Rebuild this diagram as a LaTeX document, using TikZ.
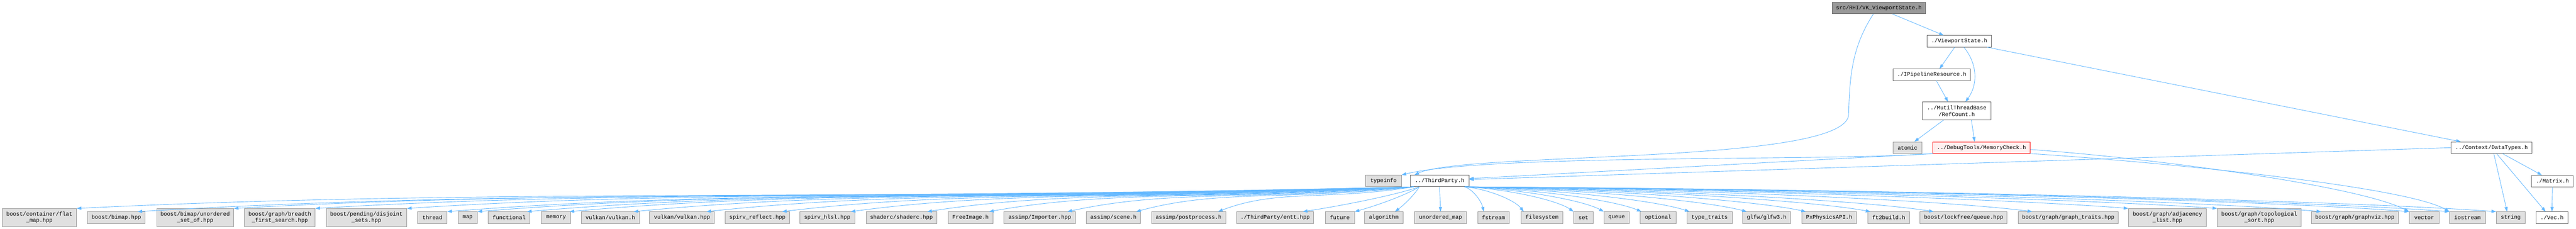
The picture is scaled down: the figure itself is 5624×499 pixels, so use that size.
\documentclass[tikz,border=0pt]{standalone}
\usepackage{fontspec}
\setmainfont{Liberation Mono}
\usetikzlibrary{arrows.meta,calc}
\definecolor{edgec}{HTML}{63B8FF}
\definecolor{sysfill}{HTML}{E0E0E0}
\definecolor{sysdraw}{HTML}{999999}
\definecolor{locdraw}{HTML}{666666}
\definecolor{rootfill}{HTML}{999999}
\definecolor{redfill}{HTML}{FFF0F0}
\definecolor{reddraw}{HTML}{FF0000}
\tikzset{
  nd/.style={draw, line width=1pt, rectangle, inner xsep=0pt, inner ysep=0pt,
    minimum height=25pt, align=center, text=black,
    font=\fontsize{12}{14}\selectfont},
  sys/.style={nd, fill=sysfill, draw=sysdraw},
  loc/.style={nd, fill=white, draw=locdraw},
  rootn/.style={nd, fill=rootfill, draw=locdraw},
  redn/.style={nd, fill=redfill, draw=reddraw},
  two/.style={minimum height=39pt},
  edge/.style={draw=edgec, line width=1pt, -{Triangle[length=10pt,width=7pt]}, fill=none},
}
\begin{document}
\begin{tikzpicture}[x=1pt,y=-1pt]
\fill[white] (0,0) rectangle (5624,499);
\useasboundingbox (0,0) rectangle (5624,499);

% upper nodes
\node[rootn, minimum width=204pt] (root) at (4102,17.5) {src/RHI/VK\_ViewportState.h};
\node[loc, minimum width=141pt] (vps) at (4277.5,90) {./ViewportState.h};
\node[loc, minimum width=169pt] (ipr) at (4217.5,163) {./IPipelineResource.h};
\node[loc, two, minimum width=150pt] (refc) at (4272,242) {../MutilThreadBase\\/RefCount.h};
\node[sys, minimum width=62pt] (atomic) at (4164.5,322) {atomic};
\node[redn, minimum width=212pt] (memchk) at (4326,322) {../DebugTools/MemoryCheck.h};
\node[loc, minimum width=177pt] (dt) at (5439.5,322) {../Context/DataTypes.h};
\node[sys, minimum width=78pt] (typeinfo) at (3020.5,394.5) {typeinfo};
\node[loc, minimum width=128pt] (tp) at (3143,394.5) {../ThirdParty.h};
\node[loc, minimum width=91pt] (matrix) at (5572.5,395) {./Matrix.h};

% bottom row
\node[sys, two, minimum width=162pt] (flat) at (86,474.5) {boost/container/flat\\\_map.hpp};
\node[sys, minimum width=126pt] (bimap) at (254,474.5) {boost/bimap.hpp};
\node[sys, two, minimum width=168pt] (unord) at (426,474.5) {boost/bimap/unordered\\\_set\_of.hpp};
\node[sys, two, minimum width=154pt] (breadth) at (611,474.5) {boost/graph/breadth\\\_first\_search.hpp};
\node[sys, two, minimum width=176pt] (disj) at (800,474.5) {boost/pending/disjoint\\\_sets.hpp};
\node[sys, minimum width=64pt] (thread) at (944,474.5) {thread};
\node[sys, minimum width=42pt] (map) at (1021,474.5) {map};
\node[sys, minimum width=91pt] (func) at (1111.5,474.5) {functional};
\node[sys, minimum width=64pt] (memory) at (1214,474.5) {memory};
\node[sys, minimum width=127pt] (vkh) at (1332.5,474.5) {vulkan/vulkan.h};
\node[sys, minimum width=142pt] (vkhpp) at (1489,474.5) {vulkan/vulkan.hpp};
\node[sys, minimum width=141pt] (spref) at (1653.5,474.5) {spirv\_reflect.hpp};
\node[sys, minimum width=120pt] (sphlsl) at (1806,474.5) {spirv\_hlsl.hpp};
\node[sys, minimum width=154pt] (shaderc) at (1968,474.5) {shaderc/shaderc.hpp};
\node[sys, minimum width=98pt] (freeimg) at (2119,474.5) {FreeImage.h};
\node[sys, minimum width=156pt] (importer) at (2270,474.5) {assimp/Importer.hpp};
\node[sys, minimum width=118pt] (scene) at (2431,474.5) {assimp/scene.h};
\node[sys, minimum width=162pt] (postproc) at (2595,474.5) {assimp/postprocess.h};
\node[sys, minimum width=168pt] (entt) at (2784,474.5) {./ThirdParty/entt.hpp};
\node[sys, minimum width=64pt] (future) at (2925,474.5) {future};
\node[sys, minimum width=84pt] (algo) at (3021,474.5) {algorithm};
\node[sys, minimum width=114pt] (umap) at (3145,474.5) {unordered\_map};
\node[sys, minimum width=69pt] (fstream) at (3260.5,474.5) {fstream};
\node[sys, minimum width=91pt] (filesys) at (3366.5,474.5) {filesystem};
\node[sys, minimum width=42pt] (set) at (3457,474.5) {set};
\node[sys, minimum width=55pt] (queue) at (3529.5,474.5) {queue};
\node[sys, minimum width=78pt] (optional) at (3620,474.5) {optional};
\node[sys, minimum width=99pt] (typetr) at (3732.5,474.5) {type\_traits};
\node[sys, minimum width=104pt] (glfw) at (3857,474.5) {glfw/glfw3.h};
\node[sys, minimum width=119pt] (physx) at (3993.5,474.5) {PxPhysicsAPI.h};
\node[sys, minimum width=91pt] (ft2) at (4123.5,474.5) {ft2build.h};
\node[sys, minimum width=190pt] (lockfree) at (4287,474.5) {boost/lockfree/queue.hpp};
\node[sys, minimum width=219pt] (graphtr) at (4515.5,474.5) {boost/graph/graph\_traits.hpp};
\node[sys, two, minimum width=170pt] (adjl) at (4732,474.5) {boost/graph/adjacency\\\_list.hpp};
\node[sys, two, minimum width=183pt] (topo) at (4932.5,474.5) {boost/graph/topological\\\_sort.hpp};
\node[sys, minimum width=190pt] (graphviz) at (5141,474.5) {boost/graph/graphviz.hpp};
\node[sys, minimum width=65pt] (vector) at (5292.5,474.5) {vector};
\node[sys, minimum width=78pt] (iostream) at (5387,474.5) {iostream};
\node[sys, minimum width=63pt] (string) at (5481.5,474.5) {string};
\node[loc, minimum width=69pt] (vec) at (5571.5,474.5) {./Vec.h};

% upper edges
\draw[edge] ([xshift=132pt]root.south west) -- ([xshift=-34pt]vps.north);
\draw[edge] ([xshift=-12pt]root.south) .. controls (4045,100) and (4038,160) .. (4036,250)
  .. controls (4030,360) and (3200,330) .. ([xshift=-55pt]tp.north);
\draw[edge] ([xshift=-10pt]vps.south) -- ([xshift=17pt]ipr.north);
\draw[edge] ([xshift=10pt]vps.south) .. controls (4318,140) and (4318,185) .. ([xshift=19pt]refc.north);
\draw[edge] ([xshift=10pt]ipr.south) -- ([xshift=-19pt]refc.north);
\draw[edge] ([xshift=-10pt]vps.south east) -- ([xshift=-67pt]dt.north);
\draw[edge] ([xshift=-29pt]refc.south) -- ([xshift=15pt]atomic.north);
\draw[edge] ([xshift=32pt]refc.south) -- ([xshift=-15pt]memchk.north);
\draw[edge] (memchk.south west) .. controls (4000,352) and (3250,335) .. (typeinfo.north east);
\draw[edge] (memchk.south west) -- ([yshift=-8pt]tp.north east);
\draw[edge] ([yshift=-4pt]memchk.east) .. controls (4700,345) and (5150,405) .. (vector.north west);
\draw[edge] (memchk.south east) .. controls (4700,352) and (5250,405) .. (iostream.north west);
\draw[edge] (dt.west) -- ([yshift=-10pt]tp.north east);
\draw[edge] ([xshift=5pt]dt.south) -- ([xshift=-8pt]string.north);
\draw[edge] ([xshift=11pt]dt.south) -- ([xshift=-14pt]vec.north);
\draw[edge] ([xshift=24pt]dt.south) -- ([xshift=-23pt]matrix.north);
\draw[edge] (matrix.south) -- (vec.north);

% ThirdParty.h -> far left
\foreach \n/\sh/\ex in {flat/0/167, bimap/-17/300, unord/0/510, breadth/0/688, disj/0/888,
  thread/0/976, map/0/1042, func/-7/1150, memory/-3/1243, vkh/-13/1383, vkhpp/-18/1542,
  spref/-17/1707, sphlsl/-9/1857, shaderc/-21/2024, freeimg/-9/2159, importer/-18/2330,
  scene/-10/2480, postproc/-17/2659}{
  \pgfmathsetmacro\ca{3088-0.45*(3088-\ex)}
  \pgfmathsetmacro\cb{\ex+0.3*(3088-\ex)}
  \draw[edge] ([xshift=8pt]tp.south west) .. controls (\ca,438) and (\cb,412) .. ([xshift=\sh pt]\n.north east);
}
% ThirdParty.h -> near left
\foreach \n/\sh/\ex in {entt/-24/2844, future/0/2957, algo/-18/3045}{
  \pgfmathsetmacro\ca{3099-0.2*(3099-\ex)}
  \pgfmathsetmacro\cb{\ex+0.35*(3099-\ex)}
  \draw[edge] ([xshift=20pt]tp.south west) .. controls (\ca,425) and (\cb,448) .. ([xshift=\sh pt]\n.north east);
}
\draw[edge] (tp.south) -- (umap.north);
% ThirdParty.h -> right
\foreach \n/\sh/\ex in {fstream/14/3240, filesys/6/3327, set/0/3436, queue/0/3502, optional/3/3584,
  typetr/6/3689, glfw/9/3814, physx/9/3943, ft2/6/4084, lockfree/30/4222, graphtr/31/4437,
  adjl/0/4647, topo/0/4841, graphviz/22/5068, vector/0/5260, iostream/0/5348, string/0/5450}{
  \pgfmathsetmacro\ca{3197+0.4*(\ex-3197)}
  \pgfmathsetmacro\cb{\ex-0.15*(\ex-3197)}
  \draw[edge] ([xshift=-10pt]tp.south east) .. controls (\ca,412) and (\cb,437) .. ([xshift=\sh pt]\n.north west);
}
\end{tikzpicture}
\end{document}
